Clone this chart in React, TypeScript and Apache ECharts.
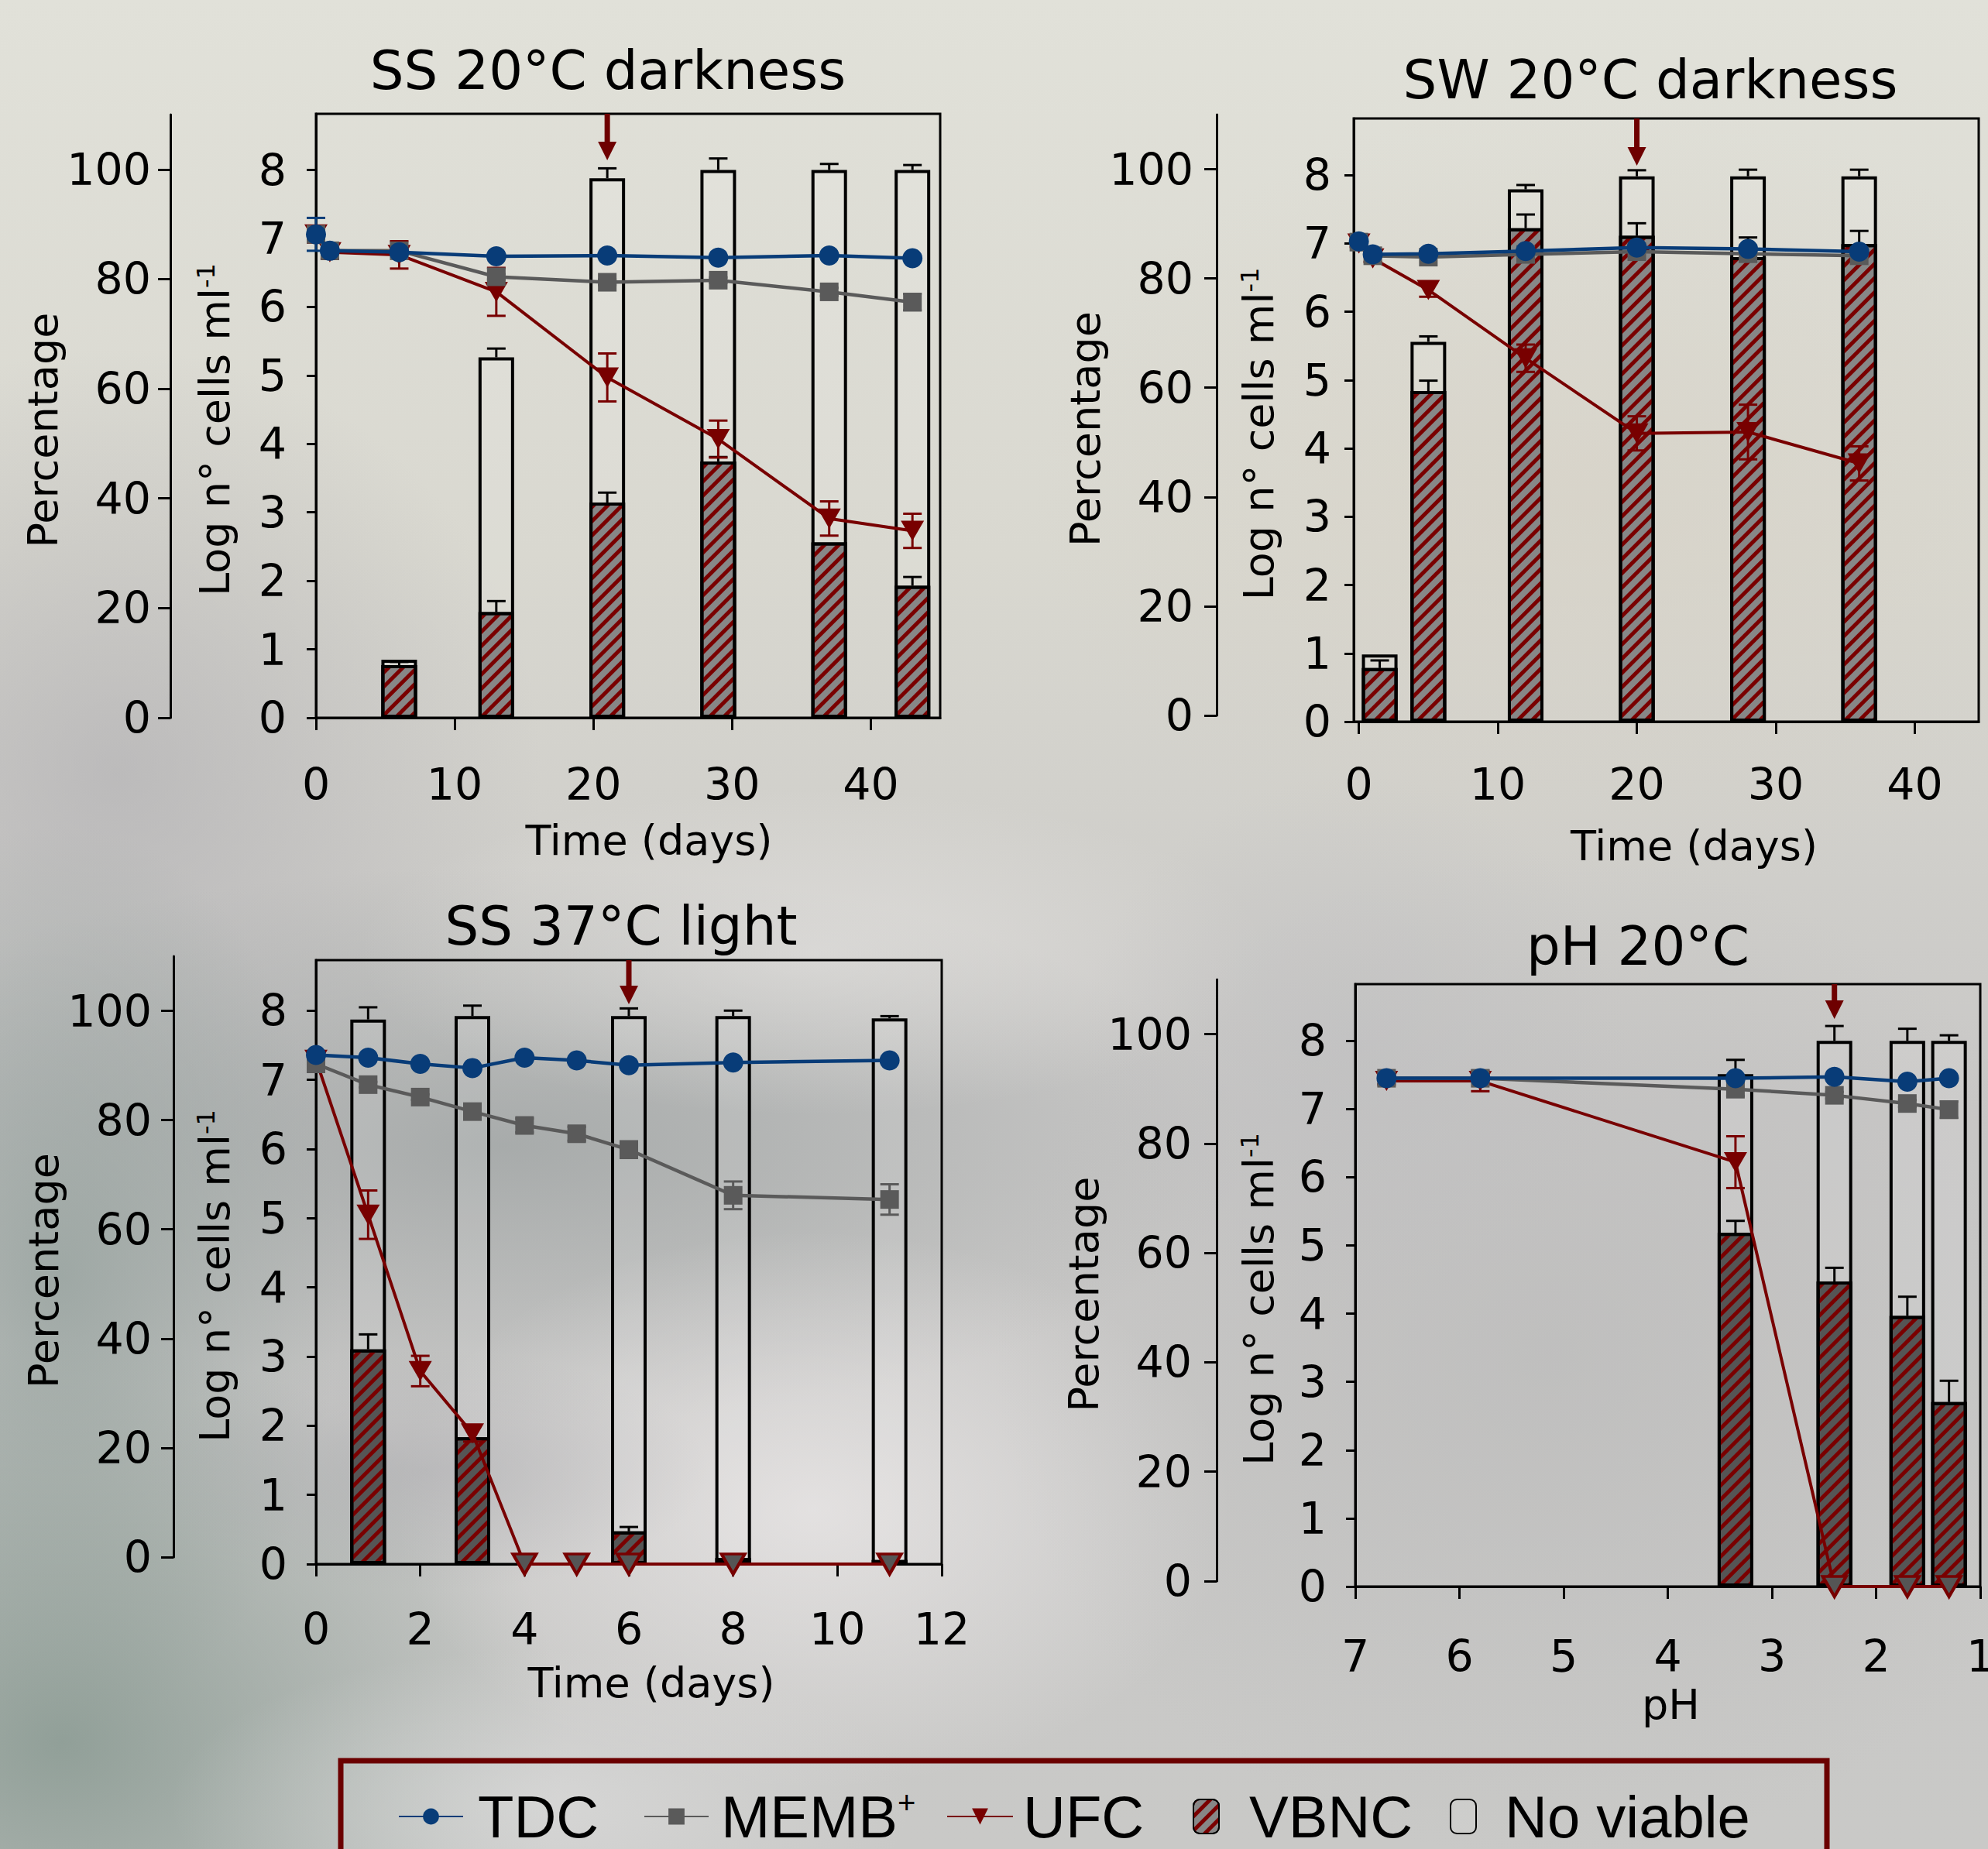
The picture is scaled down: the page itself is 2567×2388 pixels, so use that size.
import React, { useEffect, useRef } from "react";
import * as echarts from "echarts";

const W = 2567;
const H = 2388;
const FONT = "'DejaVu Sans', 'Open Sans', sans-serif";
const LEGEND_FONT = "'Liberation Sans', Arial, sans-serif";
const BLUE = "#083c78";
const GREY = "#5a5a5a";
const RED = "#780000";
const ARROW = "#6e0000";
const STRIPE = "#7a0000";

// ---------- Tick labels ----------
const daysTicks45 = [0, 10, 20, 30, 40];
const daysTicks12 = [0, 2, 4, 6, 8, 10, 12];
const phTicks = [1, 2, 3, 4, 5, 6, 7];
const logTicks = [0, 1, 2, 3, 4, 5, 6, 7, 8];
const pctTicks = [0, 20, 40, 60, 80, 100];

// ---------- Panel 1: SS 20°C darkness ----------
const p1LineDays = [0, 1, 6, 13, 21, 29, 37, 43];
const p1TDC = [7.06, 6.82, 6.8, 6.74, 6.75, 6.72, 6.75, 6.71];
const p1TDCErr = [0.24, 0, 0, 0, 0, 0, 0, 0];
const p1MEMB = [7.06, 6.82, 6.82, 6.44, 6.36, 6.39, 6.22, 6.07];
const p1MEMBErr = [0, 0, 0, 0.04, 0.04, 0.04, 0.06, 0.12];
const p1UFC = [7.06, 6.8, 6.76, 6.22, 4.97, 4.07, 2.91, 2.73];
const p1UFCErr = [0.12, 0.1, 0.2, 0.35, 0.35, 0.27, 0.25, 0.25];
const p1BarDays = [6, 13, 21, 29, 37, 43];
const p1VBNC = [9.6, 19.3, 39.3, 46.8, 32.0, 24.1];
const p1VBNCErr = [0.6, 2.0, 1.8, 0.8, 0, 1.6];
const p1NoViable = [1.0, 46.5, 59.2, 53.2, 68.0, 75.9];
const p1TotalErr = [0, 1.6, 1.8, 2.1, 1.1, 0.9];
const p1Arrow = 21;

// ---------- Panel 2: SW 20°C darkness ----------
const p2LineDays = [0, 1, 5, 12, 20, 28, 36];
const p2TDC = [7.03, 6.84, 6.85, 6.89, 6.94, 6.92, 6.88];
const p2TDCErr = [0, 0, 0, 0, 0, 0, 0];
const p2MEMB = [7.02, 6.82, 6.8, 6.84, 6.88, 6.85, 6.82];
const p2MEMBErr = [0, 0, 0, 0, 0, 0, 0];
const p2UFC = [7.0, 6.78, 6.32, 5.32, 4.22, 4.24, 3.78];
const p2UFCErr = [0.05, 0.05, 0.1, 0.2, 0.25, 0.4, 0.25];
const p2BarDays = [1.5, 5, 12, 20, 28, 36];
const p2VBNC = [9.8, 60.5, 90.3, 88.9, 85.0, 87.4];
const p2VBNCErr = [1.4, 1.9, 2.5, 2.3, 3.6, 2.4];
const p2NoViable = [2.5, 9.0, 7.1, 10.9, 14.8, 12.4];
const p2TotalErr = [0, 1.0, 0.8, 1.1, 1.2, 1.2];
const p2Arrow = 20;

// ---------- Panel 3: SS 37°C light ----------
const p3LineDays = [0, 1, 2, 3, 4, 5, 6, 8, 11];
const p3TDC = [7.36, 7.32, 7.23, 7.17, 7.32, 7.28, 7.21, 7.25, 7.28];
const p3TDCErr = [0, 0, 0, 0, 0, 0, 0, 0, 0];
const p3MEMB = [7.23, 6.93, 6.75, 6.54, 6.34, 6.22, 5.99, 5.33, 5.27];
const p3MEMBErr = [0, 0.04, 0.04, 0.05, 0.1, 0.1, 0.12, 0.2, 0.22];
const p3UFC = [7.29, 5.05, 2.79, 1.89, 0, 0, 0, 0, 0];
const p3UFCErr = [0, 0.35, 0.22, 0.12, 0, 0, 0, 0, 0];
const p3BarDays = [1, 3, 6, 8, 11];
const p3VBNC = [38.8, 22.9, 5.9, 1.1, 0.75];
const p3VBNCErr = [2.7, 0, 0.8, 0, 0];
const p3NoViable = [59.6, 76.1, 93.1, 97.9, 97.85];
const p3TotalErr = [2.2, 1.9, 1.4, 1.0, 0.4];
const p3Arrow = 6;

// ---------- Panel 4: pH 20°C ----------
const p4LinePH = [6.7, 5.8, 3.35, 2.4, 1.7, 1.3];
const p4TDC = [7.45, 7.45, 7.45, 7.47, 7.4, 7.45];
const p4TDCErr = [0, 0, 0, 0, 0, 0];
const p4MEMB = [7.45, 7.45, 7.29, 7.2, 7.08, 6.99];
const p4MEMBErr = [0, 0, 0.1, 0.05, 0.05, 0.12];
const p4UFC = [7.41, 7.41, 6.22, 0, 0, 0];
const p4UFCErr = [0.05, 0.15, 0.38, 0, 0, 0];
const p4BarPH = [3.35, 2.4, 1.7, 1.3];
const p4VBNC = [64.8, 55.9, 49.6, 33.8];
const p4VBNCErr = [2.2, 2.5, 3.5, 3.9];
const p4NoViable = [29.1, 44.1, 50.4, 66.2];
const p4TotalErr = [2.6, 2.7, 2.2, 1.0];
const p4Arrow = 2.4;

// ---------- Panel layout ----------
const panels = [
  {
    title: "SS 20°C darkness", titleX: 785, titleY: 91,
    box: { left: 408, right: 1214, top: 147, bottom: 927 }, logMax: 8.82,
    pct: { x: 220, top: 148, bottom: 927 },
    xMin: 0, xMax: 45, inverse: false, xTicks: daysTicks45, xName: "Time (days)",
    xLabelMargin: 57, xNameGap: 131, xNameShift: 27,
    logLabelMargin: 38, pctLabelMargin: 25, logNameGap: 104, pctNameGap: 128,
    lineX: p1LineDays, tdc: p1TDC, tdcErr: p1TDCErr, memb: p1MEMB, membErr: p1MEMBErr, ufc: p1UFC, ufcErr: p1UFCErr,
    barX: p1BarDays, vbnc: p1VBNC, vbncErr: p1VBNCErr, noViable: p1NoViable, totalErr: p1TotalErr,
    arrowX: p1Arrow, arrowLen: 60, vbncColor: "#878787",
  },
  {
    title: "SW 20°C darkness", titleX: 2131, titleY: 103,
    box: { left: 1748, right: 2555, top: 153, bottom: 932 }, logMax: 8.83,
    pct: { x: 1571, top: 148, bottom: 924 },
    xMin: -0.37, xMax: 44.6, inverse: false, xTicks: daysTicks45, xName: "Time (days)",
    xLabelMargin: 52, xNameGap: 133, xNameShift: 36,
    logLabelMargin: 29, pctLabelMargin: 30, logNameGap: 96, pctNameGap: 133,
    lineX: p2LineDays, tdc: p2TDC, tdcErr: p2TDCErr, memb: p2MEMB, membErr: p2MEMBErr, ufc: p2UFC, ufcErr: p2UFCErr,
    barX: p2BarDays, vbnc: p2VBNC, vbncErr: p2VBNCErr, noViable: p2NoViable, totalErr: p2TotalErr,
    arrowX: p2Arrow, arrowLen: 61, vbncColor: "#878787",
  },
  {
    title: "SS 37°C light", titleX: 802, titleY: 1196,
    box: { left: 408, right: 1216, top: 1240, bottom: 2020 }, logMax: 8.73,
    pct: { x: 224, top: 1235, bottom: 2011 },
    xMin: 0, xMax: 12, inverse: false, xTicks: daysTicks12, xName: "Time (days)",
    xLabelMargin: 55, xNameGap: 126, xNameShift: 29,
    logLabelMargin: 37, pctLabelMargin: 28, logNameGap: 104, pctNameGap: 132,
    lineX: p3LineDays, tdc: p3TDC, tdcErr: p3TDCErr, memb: p3MEMB, membErr: p3MEMBErr, ufc: p3UFC, ufcErr: p3UFCErr,
    barX: p3BarDays, vbnc: p3VBNC, vbncErr: p3VBNCErr, noViable: p3NoViable, totalErr: p3TotalErr,
    arrowX: p3Arrow, arrowLen: 57, vbncColor: "#555555",
  },
  {
    title: "pH 20°C", titleX: 2115, titleY: 1222,
    box: { left: 1750, right: 2557, top: 1271, bottom: 2049 }, logMax: 8.83,
    pct: { x: 1571, top: 1265, bottom: 2042 },
    xMin: 1, xMax: 7, inverse: true, xTicks: phTicks, xName: "pH",
    xLabelMargin: 61, xNameGap: 125, xNameShift: 4,
    logLabelMargin: 37, pctLabelMargin: 32, logNameGap: 98, pctNameGap: 133,
    lineX: p4LinePH, tdc: p4TDC, tdcErr: p4TDCErr, memb: p4MEMB, membErr: p4MEMBErr, ufc: p4UFC, ufcErr: p4UFCErr,
    barX: p4BarPH, vbnc: p4VBNC, vbncErr: p4VBNCErr, noViable: p4NoViable, totalErr: p4TotalErr,
    arrowX: p4Arrow, arrowLen: 45, vbncColor: "#555555",
  },
];

const legendItems = [
  { name: "TDC", left: 514, iconW: 83, iconH: 26, pad: 14 },
  { name: "MEMB+", left: 831, iconW: 83, iconH: 26, pad: 11 },
  { name: "UFC", left: 1222, iconW: 85, iconH: 26, pad: 8 },
  { name: "VBNC", left: 1540, iconW: 33, iconH: 44, pad: 34 },
  { name: "No viable", left: 1872, iconW: 33, iconH: 44, pad: 32 },
];
const LEGEND_CENTER_Y = 2346;
const LEGEND_FONT_SIZE = 76;

const bgBlobs = [
  { x: 150, y: 1000, r: 550, sx: 1, sy: 1.0, c: [165, 164, 170, 0.5] },
  { x: 650, y: 1480, r: 600, sx: 1.6, sy: 0.6, c: [150, 156, 156, 0.65] },
  { x: 80, y: 1650, r: 450, sx: 0.8, sy: 1.3, c: [150, 162, 158, 0.8] },
  { x: 80, y: 2250, r: 650, sx: 1, sy: 0.8, c: [135, 152, 144, 0.85] },
  { x: 1050, y: 1950, r: 450, sx: 1.2, sy: 0.8, c: [236, 233, 233, 0.75] },
  { x: 700, y: 2330, r: 400, sx: 1.2, sy: 0.5, c: [222, 222, 222, 0.6] },
  { x: 2000, y: 1750, r: 650, sx: 1.1, sy: 1, c: [180, 180, 180, 0.45] },
  { x: 2050, y: 650, r: 650, sx: 1.1, sy: 0.8, c: [214, 208, 196, 0.55] },
  { x: 1050, y: 1230, r: 420, sx: 1.4, sy: 0.5, c: [232, 230, 228, 0.55] },
  { x: 1750, y: 1350, r: 350, sx: 1, sy: 1, c: [190, 190, 192, 0.5] },
  { x: 550, y: 1900, r: 260, sx: 1.4, sy: 0.6, c: [165, 165, 170, 0.45] },
];

function rgba(c: number[], a?: number) {
  return `rgba(${c[0]},${c[1]},${c[2]},${a === undefined ? c[3] : a})`;
}

function errRender(color: string, upperOnly: boolean) {
  return (params: any, api: any) => {
    const x = api.value(0);
    const y = api.value(1);
    const e = api.value(2);
    if (!(e > 0)) return null;
    const p0 = api.coord([x, upperOnly ? y : y - e]);
    const p1 = api.coord([x, y + e]);
    const hw = 12;
    const st = { stroke: color, lineWidth: 3 };
    const children: any[] = [
      { type: "line", shape: { x1: p0[0], y1: p0[1], x2: p1[0], y2: p1[1] }, style: st },
      { type: "line", shape: { x1: p1[0] - hw, y1: p1[1], x2: p1[0] + hw, y2: p1[1] }, style: st },
    ];
    if (!upperOnly) {
      children.push({ type: "line", shape: { x1: p0[0] - hw, y1: p0[1], x2: p0[0] + hw, y2: p0[1] }, style: st });
    }
    return { type: "group", children };
  };
}

function arrowRender(len: number) {
  return (params: any, api: any) => {
    const p = api.coord([api.value(0), 0]);
    const top = params.coordSys.y;
    const head = 24;
    return {
      type: "group",
      children: [
        { type: "rect", shape: { x: p[0] - 3.5, y: top, width: 7, height: len - head + 2 }, style: { fill: ARROW } },
        {
          type: "polygon",
          shape: { points: [[p[0] - 12, top + len - head], [p[0] + 12, top + len - head], [p[0], top + len]] },
          style: { fill: ARROW },
        },
      ],
    };
  };
}

function buildOption() {
  const grid: any[] = [];
  const xAxis: any[] = [];
  const yAxis: any[] = [];
  const series: any[] = [];
  const graphic: any[] = [];

  graphic.push({
    type: "rect", silent: true, z: -100,
    shape: { x: 0, y: 0, width: W, height: H },
    style: {
      fill: {
        type: "linear", x: 0, y: 0, x2: 0, y2: 1,
        colorStops: [
          { offset: 0, color: "#e1e1d9" },
          { offset: 0.3, color: "#d9d8d0" },
          { offset: 0.6, color: "#c8c7c6" },
          { offset: 1, color: "#c9c9c7" },
        ],
      },
    },
  });
  bgBlobs.forEach((b) => {
    graphic.push({
      type: "circle", silent: true, z: -99,
      x: b.x, y: b.y, scaleX: b.sx, scaleY: b.sy,
      shape: { cx: 0, cy: 0, r: b.r },
      style: {
        fill: {
          type: "radial", x: 0.5, y: 0.5, r: 0.5,
          colorStops: [
            { offset: 0, color: rgba(b.c) },
            { offset: 1, color: rgba(b.c, 0) },
          ],
        },
      },
    });
  });

  const axisLineStyle = { color: "#000", width: 3 };
  const labelStyle = { fontSize: 57, color: "#000", fontFamily: FONT };
  const nameStyleBase = { fontSize: 54, color: "#000", fontFamily: FONT };

  panels.forEach((p, i) => {
    const gMain = 2 * i;
    const gPct = 2 * i + 1;
    grid.push({
      left: p.box.left, top: p.box.top,
      width: p.box.right - p.box.left, height: p.box.bottom - p.box.top,
      show: true, borderColor: "#000", borderWidth: 3, backgroundColor: "transparent",
      containLabel: false, outerBoundsMode: "none",
    });
    grid.push({
      left: p.pct.x, top: p.pct.top, width: 10, height: p.pct.bottom - p.pct.top,
      show: false, containLabel: false, outerBoundsMode: "none",
    });

    xAxis.push({
      type: "value", gridIndex: gMain, min: p.xMin, max: p.xMax, inverse: p.inverse,
      axisLine: { show: true, onZero: false, lineStyle: axisLineStyle },
      axisTick: { show: true, customValues: p.xTicks, length: 16, lineStyle: axisLineStyle },
      axisLabel: { show: true, customValues: p.xTicks, margin: p.xLabelMargin, ...labelStyle },
      splitLine: { show: false },
      name: p.xName, nameLocation: "middle", nameGap: p.xNameGap,
      nameTextStyle: { ...nameStyleBase, padding: [0, 0, 0, 2 * p.xNameShift] },
    });
    xAxis.push({ type: "value", gridIndex: gPct, show: false, min: 0, max: 1 });

    const logIdx = yAxis.length;
    yAxis.push({
      type: "value", gridIndex: gMain, min: 0, max: p.logMax, position: "left",
      axisLine: { show: true, onZero: false, lineStyle: axisLineStyle },
      axisTick: { show: true, customValues: logTicks, length: 12, lineStyle: axisLineStyle },
      axisLabel: { show: true, customValues: logTicks, margin: p.logLabelMargin, ...labelStyle },
      splitLine: { show: false },
      name: "Log n° cells ml{sup|-1}", nameLocation: "middle", nameGap: p.logNameGap,
      nameTextStyle: {
        ...nameStyleBase, padding: [0, 36, 0, 0],
        rich: { sup: { fontSize: 32, fontFamily: FONT, color: "#000", verticalAlign: "top" } },
      },
    });
    const hidPctIdx = yAxis.length;
    yAxis.push({ type: "value", gridIndex: gMain, show: false, min: 0, max: p.logMax * 12.5 });
    yAxis.push({
      type: "value", gridIndex: gPct, min: 0, max: 110, position: "left",
      axisLine: { show: true, onZero: false, lineStyle: axisLineStyle },
      axisTick: { show: true, customValues: pctTicks, length: 16, lineStyle: axisLineStyle },
      axisLabel: { show: true, customValues: pctTicks, margin: p.pctLabelMargin, ...labelStyle },
      splitLine: { show: false },
      name: "Percentage", nameLocation: "middle", nameGap: p.pctNameGap,
      nameTextStyle: { ...nameStyleBase, padding: [0, 36, 0, 0] },
    });

    const totals = p.vbnc.map((v, j) => v + p.noViable[j]);

    series.push({
      type: "bar", name: "No viable", xAxisIndex: gMain, yAxisIndex: hidPctIdx,
      data: p.barX.map((x, j) => [x, totals[j]]),
      barWidth: 46, barGap: "-100%", z: 2,
      itemStyle: { color: "rgba(255,255,255,0.1)", borderColor: "#000", borderWidth: 4 },
    });
    series.push({
      type: "bar", name: "VBNC", xAxisIndex: gMain, yAxisIndex: hidPctIdx,
      data: p.barX.map((x, j) => [x, p.vbnc[j]]),
      barWidth: 46, barGap: "-100%", z: 2,
      itemStyle: {
        color: p.vbncColor, borderColor: "#000", borderWidth: 4,
        decal: {
          symbol: "rect", symbolSize: 1, color: STRIPE,
          dashArrayX: [1, 0], dashArrayY: [5, 8], rotation: -Math.PI / 4,
        },
      },
    });
    series.push({
      type: "custom", name: "barErr", xAxisIndex: gMain, yAxisIndex: hidPctIdx, z: 3, silent: true,
      renderItem: errRender("#000", true),
      data: [
        ...p.barX.map((x, j) => [x, totals[j], p.totalErr[j]]),
        ...p.barX.map((x, j) => [x, p.vbnc[j], p.vbncErr[j]]),
      ],
    });

    const lineDefs = [
      { name: "UFC", vals: p.ufc, err: p.ufcErr, color: RED, symbol: "triangle", size: [30, 26], rot: 180, width: 4 },
      { name: "MEMB+", vals: p.memb, err: p.membErr, color: GREY, symbol: "rect", size: 24, rot: 0, width: 4.5 },
      { name: "TDC", vals: p.tdc, err: p.tdcErr, color: BLUE, symbol: "circle", size: 26, rot: 0, width: 4.5 },
    ];
    lineDefs.forEach((d) => {
      series.push({
        type: "custom", name: d.name + "Err", xAxisIndex: gMain, yAxisIndex: logIdx, z: 4, silent: true,
        renderItem: errRender(d.color, false),
        data: p.lineX.map((x, j) => [x, d.vals[j], d.err[j]]),
      });
    });
    lineDefs.forEach((d, k) => {
      series.push({
        type: "line", name: d.name, xAxisIndex: gMain, yAxisIndex: logIdx, z: 5 + k,
        symbol: d.symbol, symbolSize: d.size, symbolRotate: d.rot,
        lineStyle: { color: d.color, width: d.width },
        itemStyle: { color: d.color },
        data: p.lineX.map((x, j) => {
          const v = d.vals[j];
          if (d.name === "UFC" && v === 0) {
            return { value: [x, v], itemStyle: { color: "#555555", borderColor: RED, borderWidth: 4 } };
          }
          return [x, v];
        }),
      });
    });

    series.push({
      type: "custom", name: "arrow", xAxisIndex: gMain, yAxisIndex: logIdx, z: 9, silent: true,
      renderItem: arrowRender(p.arrowLen),
      data: [[p.arrowX, p.logMax]],
    });

    graphic.push({
      type: "text", z: 10, silent: true, x: p.titleX, y: p.titleY,
      style: {
        text: p.title, fontSize: 69, fontFamily: FONT, fill: "#000",
        align: "center", verticalAlign: "middle", textAlign: "center", textVerticalAlign: "middle",
      },
    });
  });

  graphic.push({
    type: "rect", z: 10, silent: true,
    shape: { x: 440, y: 2274, width: 1919, height: 200 },
    style: { fill: "none", stroke: "#6b0000", lineWidth: 7 },
  });

  const legend = legendItems.map((it) => ({
    data: [it.name], left: it.left, top: LEGEND_CENTER_Y - LEGEND_FONT_SIZE / 2, orient: "horizontal",
    itemWidth: it.iconW, itemHeight: it.iconH, selectedMode: false, padding: 0,
    formatter: (n: string) => (n === "MEMB+" ? "MEMB{sup|+}" : n),
    textStyle: {
      fontFamily: LEGEND_FONT, fontSize: LEGEND_FONT_SIZE, color: "#000", padding: [0, 0, 0, it.pad],
      rich: { sup: { fontFamily: LEGEND_FONT, fontSize: 40, color: "#000", verticalAlign: "top" } },
    },
  }));

  return {
    animation: false,
    backgroundColor: "#d6d6d0",
    grid, xAxis, yAxis, series, graphic, legend,
  };
}

export default function App() {
  const ref = useRef<HTMLDivElement>(null);
  useEffect(() => {
    if (!ref.current) return;
    const chart = echarts.init(ref.current, null, { renderer: "svg", width: W, height: H });
    chart.setOption(buildOption() as any);
    return () => chart.dispose();
  }, []);
  return <div ref={ref} style={{ position: "absolute", left: 0, top: 0, width: W, height: H }} />;
}
